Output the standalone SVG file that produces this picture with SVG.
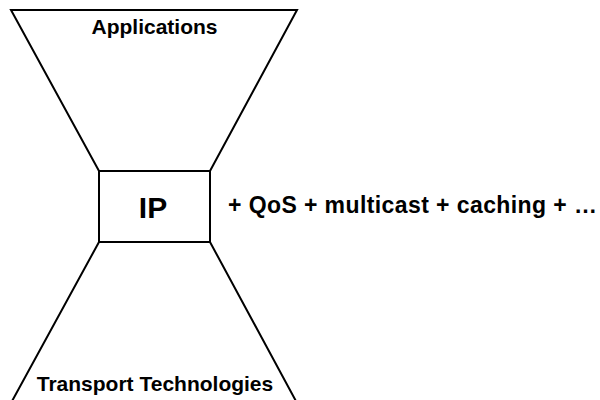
<svg xmlns="http://www.w3.org/2000/svg" width="600" height="400" viewBox="0 0 600 400">
<style>
.ln{fill:none;stroke:#000;stroke-width:2;stroke-linejoin:miter}
.t{font-family:"Liberation Sans",Arial,sans-serif;font-weight:bold;fill:#000}
</style>
<rect width="600" height="400" fill="#fff"/>
<g id="applications">
<polygon class="ln" points="11,10 297,10 210,171 99,171"/>
<text class="t" x="154.5" y="34" font-size="21" text-anchor="middle">Applications</text>
</g>
<g id="transport">
<polyline class="ln" points="11,403 99,242 210,242 297,403"/>
<text class="t" x="155" y="391" font-size="21" text-anchor="middle">Transport Technologies</text>
</g>
<g id="ip">
<rect class="ln" x="99" y="171" width="111" height="71"/>
<text class="t" x="153" y="218" font-size="30" text-anchor="middle">IP</text>
</g>
<g id="extras">
<text class="t" x="228" y="213" font-size="23" textLength="369" lengthAdjust="spacing">+ QoS + multicast + caching + …</text>
</g>
<g id="connectors"></g>
</svg>
